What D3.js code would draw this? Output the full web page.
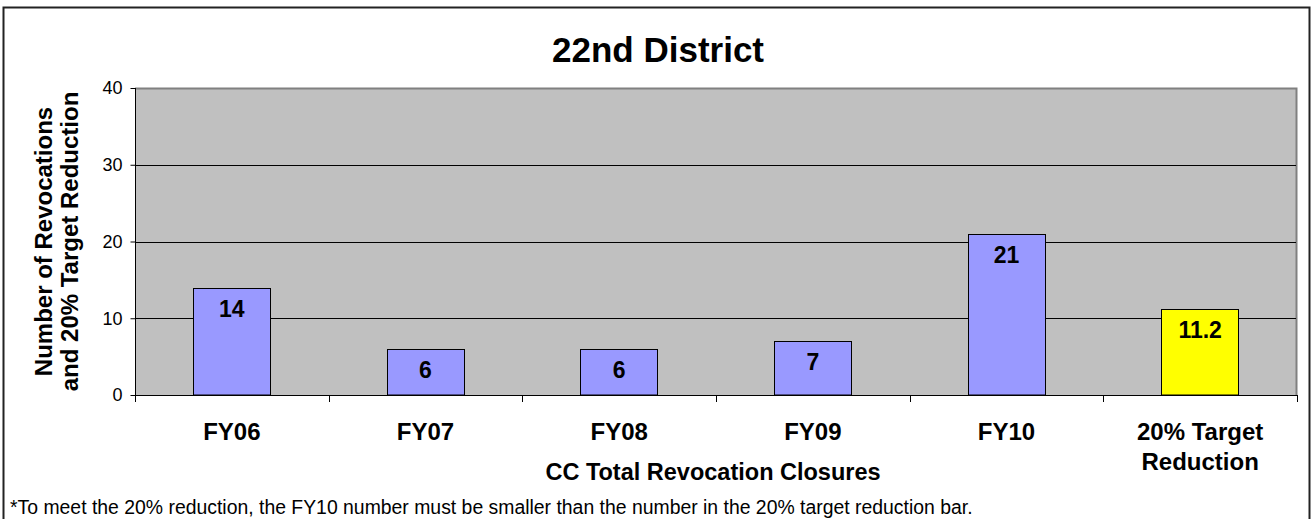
<!DOCTYPE html>
<html>
<head>
<meta charset="utf-8">
<script src="https://cdn.jsdelivr.net/npm/d3@7"></script>
<style>
  html, body { margin: 0; padding: 0; background: #fff; }
  svg { display: block; font-family: "Liberation Sans", Arial, sans-serif; }
</style>
</head>
<body>
<svg id="chart" width="1312" height="519"></svg>
<script>
const categories = ["FY06", "FY07", "FY08", "FY09", "FY10", "20% Target Reduction"];
const categoryLines = [["FY06"], ["FY07"], ["FY08"], ["FY09"], ["FY10"], ["20% Target", "Reduction"]];
const values = [14, 6, 6, 7, 21, 11.2];
const valueLabels = ["14", "6", "6", "7", "21", "11.2"];
const barColors = ["#9999FF", "#9999FF", "#9999FF", "#9999FF", "#9999FF", "#FFFF00"];
const yTicks = [0, 10, 20, 30, 40];
const titleText = "22nd District";
const xTitle = "CC Total Revocation Closures";
const yTitleLines = ["Number of Revocations", "and 20% Target Reduction"];
const footnote = "*To meet the 20% reduction, the FY10 number must be smaller than the number in the 20% target reduction bar.";

const svg = d3.select("#chart");
const plot = { left: 135, right: 1297, top: 88, bottom: 395 };

// outer frame
svg.append("rect")
  .attr("x", 3.5).attr("y", 7.5)
  .attr("width", 1306).attr("height", 530)
  .attr("fill", "#fff").attr("stroke", "#222").attr("stroke-width", 2);

const x = d3.scaleBand().domain(categories)
  .range([plot.left, plot.right]).paddingInner(0.6).paddingOuter(0.3);
const xCat = d3.scaleBand().domain(categories).range([plot.left, plot.right]).padding(0);
const y = d3.scaleLinear().domain([0, 40]).range([plot.bottom, plot.top]);

// plot background
svg.append("rect")
  .attr("x", plot.left).attr("y", plot.top)
  .attr("width", plot.right - plot.left).attr("height", plot.bottom - plot.top)
  .attr("fill", "#C0C0C0");
// plot border (top & right gray)
svg.append("path")
  .attr("d", `M${plot.left},${plot.top + 0.5}H${plot.right - 0.5}V${plot.bottom}`)
  .attr("fill", "none").attr("stroke", "#808080").attr("stroke-width", 2);

// gridlines
svg.append("g").selectAll("line").data(yTicks.filter(t => t > 0 && t < 40)).join("line")
  .attr("x1", plot.left).attr("x2", plot.right - 1)
  .attr("y1", d => Math.round(y(d)) + 0.5).attr("y2", d => Math.round(y(d)) + 0.5)
  .attr("stroke", "#000").attr("stroke-width", 1);

// bars
svg.append("g").selectAll("rect").data(values).join("rect")
  .attr("x", (d, i) => Math.round(x(categories[i])) + 0.5)
  .attr("y", d => Math.round(y(d)) + 0.5)
  .attr("width", Math.round(x.bandwidth()))
  .attr("height", d => plot.bottom - Math.round(y(d)) - 0.5)
  .attr("fill", (d, i) => barColors[i])
  .attr("stroke", "#000").attr("stroke-width", 1);

// value labels
svg.append("g").selectAll("text").data(values).join("text")
  .attr("x", (d, i) => x(categories[i]) + x.bandwidth() / 2)
  .attr("y", d => y(d) + 29)
  .attr("text-anchor", "middle")
  .attr("font-size", 23).attr("font-weight", "bold").attr("fill", "#000")
  .text((d, i) => valueLabels[i]);

// y axis
const yAxis = d3.axisLeft(y).tickValues(yTicks).tickSize(5).tickPadding(8).tickFormat(d3.format("d"));
const yg = svg.append("g").attr("transform", `translate(${plot.left + 0.5},0)`).call(yAxis);
yg.select(".domain").attr("stroke", "#000").attr("d", `M0,${plot.top}V${plot.bottom}`);
yg.selectAll(".tick line").attr("stroke", "#000");
yg.selectAll(".tick text").attr("font-size", 18).attr("fill", "#000")
  .attr("font-family", "Liberation Sans, Arial, sans-serif");

// x axis
svg.append("line")
  .attr("x1", plot.left).attr("x2", plot.right)
  .attr("y1", plot.bottom + 0.5).attr("y2", plot.bottom + 0.5)
  .attr("stroke", "#000").attr("stroke-width", 1);
const boundaries = categories.map(c => xCat(c)).concat([plot.right]);
svg.append("g").selectAll("line").data(boundaries).join("line")
  .attr("x1", d => Math.round(d) + 0.5).attr("x2", d => Math.round(d) + 0.5)
  .attr("y1", plot.bottom).attr("y2", plot.bottom + 7)
  .attr("stroke", "#000").attr("stroke-width", 1);

// category labels
const catG = svg.append("g").selectAll("text").data(categories).join("text")
  .attr("x", d => xCat(d) + xCat.bandwidth() / 2)
  .attr("y", 440)
  .attr("text-anchor", "middle")
  .attr("font-size", 24).attr("font-weight", "bold").attr("fill", "#000");
catG.each(function(d, i) {
  const t = d3.select(this);
  categoryLines[i].forEach((ln, j) => {
    t.append("tspan").attr("x", xCat(d) + xCat.bandwidth() / 2).attr("dy", j === 0 ? 0 : 30).text(ln);
  });
});

// x title
svg.append("text")
  .attr("x", (plot.left + plot.right) / 2 - 3).attr("y", 480)
  .attr("text-anchor", "middle")
  .attr("font-size", 23.5).attr("font-weight", "bold").attr("fill", "#000")
  .text(xTitle);

// y title
svg.append("g").selectAll("text").data(yTitleLines).join("text")
  .attr("transform", (d, i) => `translate(${i === 0 ? 52 : 78},${(plot.top + plot.bottom) / 2}) rotate(-90)`)
  .attr("text-anchor", "middle")
  .attr("font-size", 24).attr("font-weight", "bold").attr("fill", "#000")
  .text(d => d);

// title
svg.append("text")
  .attr("x", 658).attr("y", 62)
  .attr("text-anchor", "middle")
  .attr("font-size", 35).attr("font-weight", "bold").attr("fill", "#000")
  .text(titleText);

// footnote
svg.append("text")
  .attr("x", 10).attr("y", 514)
  .attr("font-size", 19.4).attr("fill", "#000")
  .text(footnote);
</script>
</body>
</html>
